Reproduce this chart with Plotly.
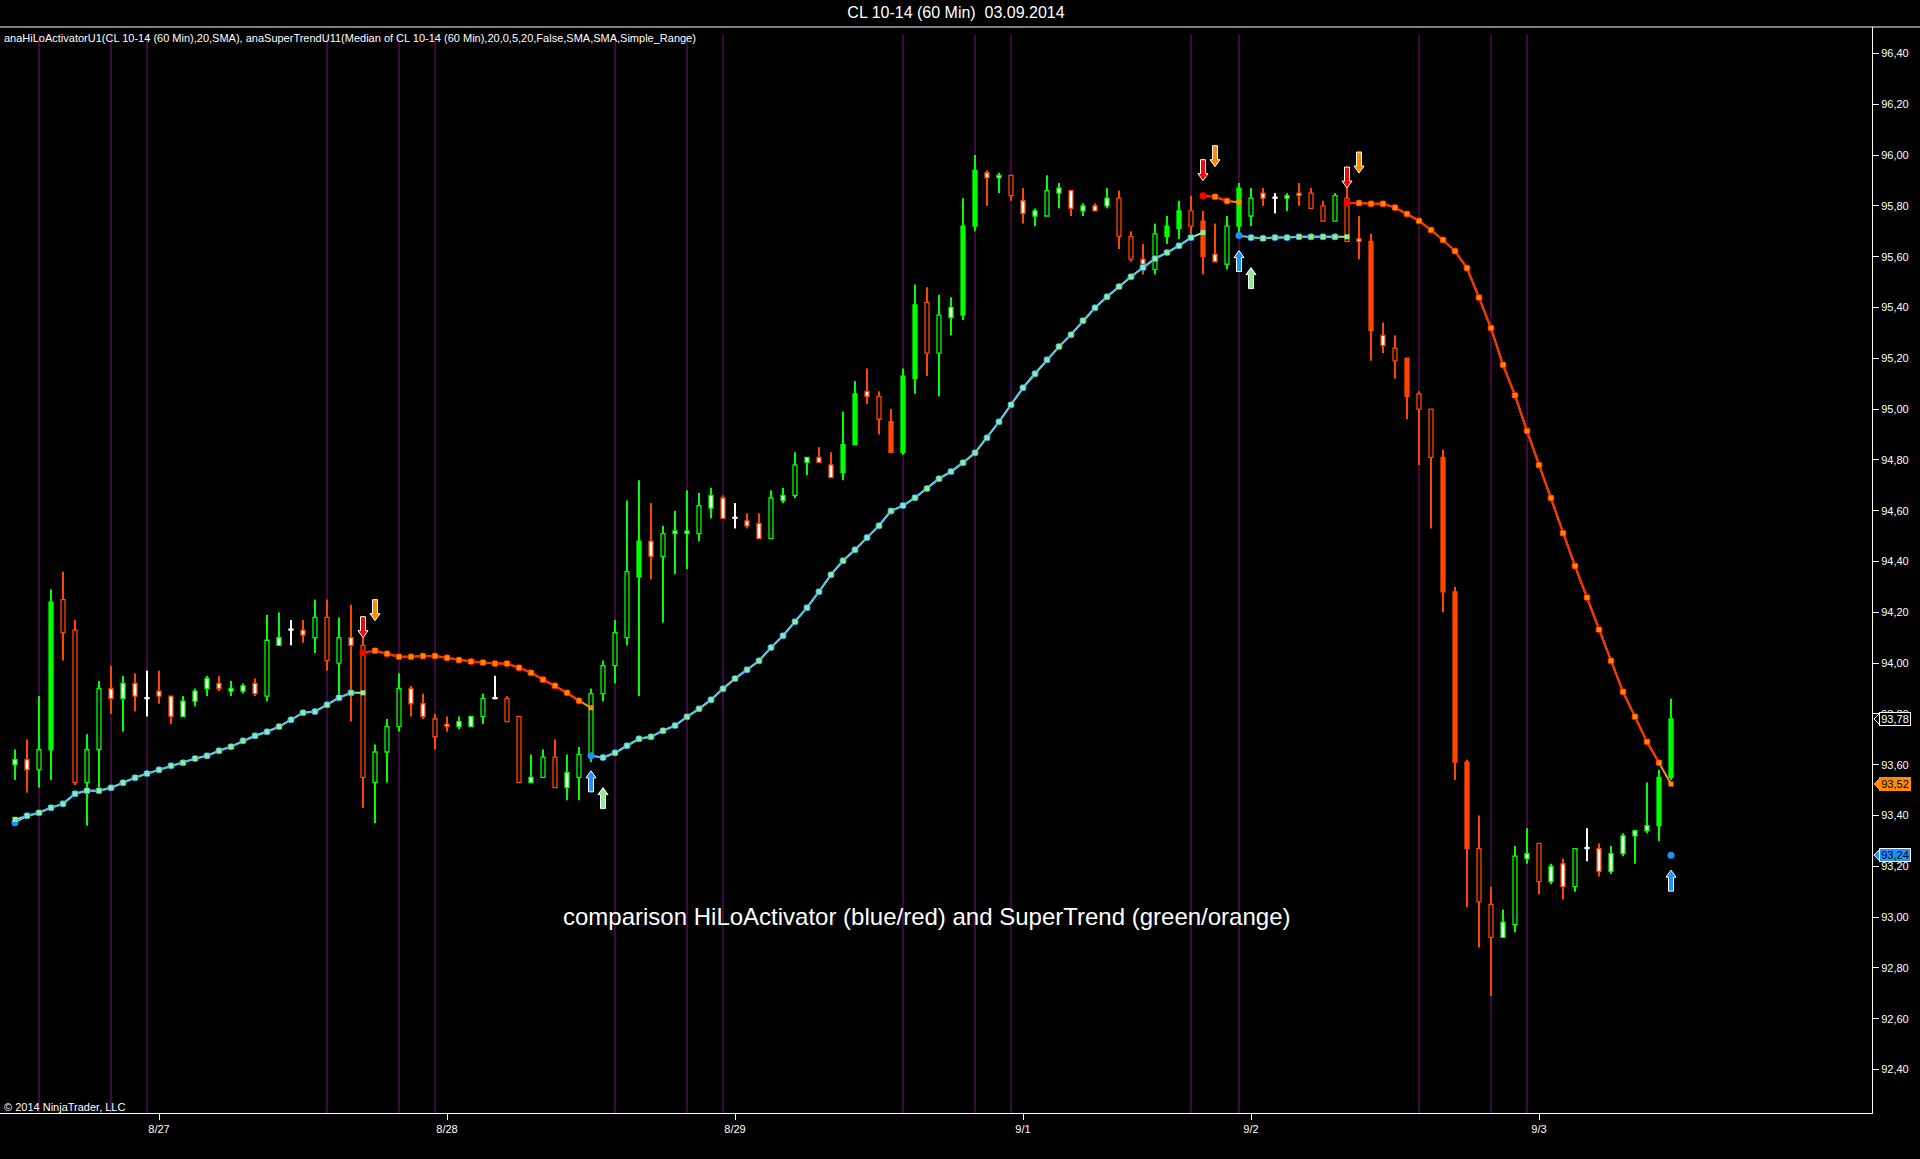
import plotly.graph_objects as go

# ---------------- data ----------------
bar_index = list(range(139))
date_tick_bars = [12, 36, 60, 84, 103, 127]
date_tick_labels = ["8/27", "8/28", "8/29", "9/1", "9/2", "9/3"]
session_line_bars = [2, 8, 11, 26, 32, 35, 50, 56, 59, 74, 80, 83, 98, 102, 117, 123, 126]
price_ticks = [92.40, 92.60, 92.80, 93.00, 93.20, 93.40, 93.60, 93.80, 94.00, 94.20,
               94.40, 94.60, 94.80, 95.00, 95.20, 95.40, 95.60, 95.80, 96.00, 96.20, 96.40]

opens = [93.60, 93.62, 93.58, 93.66, 94.25, 94.13, 93.53, 93.66, 93.90, 93.86,
         93.92, 93.86, 93.89, 93.87, 93.79, 93.85, 93.90, 93.92, 93.89, 93.89,
         93.92, 93.87, 94.07, 94.13, 94.13, 94.10, 94.18, 94.00, 94.10, 94.07,
         93.53, 93.65, 93.75, 93.90, 93.84, 93.78, 93.76, 93.75, 93.75, 93.79,
         93.86, 93.86, 93.79, 93.53, 93.55, 93.63, 93.51, 93.55, 93.64, 93.88,
         93.99, 94.10, 94.34, 94.48, 94.42, 94.51, 94.51, 94.51, 94.61, 94.65,
         94.57, 94.56, 94.55, 94.49, 94.64, 94.66, 94.79, 94.81, 94.78, 94.75,
         94.86, 95.07, 95.05, 94.95, 94.83, 95.12, 95.42, 95.22, 95.36, 95.37,
         95.72, 95.93, 95.91, 95.92, 95.82, 95.76, 95.76, 95.85, 95.86, 95.78,
         95.80, 95.80, 95.83, 95.68, 95.59, 95.55, 95.68, 95.71, 95.78, 95.74,
         95.61, 95.57, 95.72, 95.76, 95.85, 95.83, 95.83, 95.85, 95.85, 95.80,
         95.74, 95.83, 95.67, 95.66, 95.29, 95.24, 95.20, 95.06, 95.00, 94.81,
         94.28, 93.61, 93.27, 93.05, 92.92, 92.97, 93.23, 93.29, 93.14, 93.21,
         93.12, 93.27, 93.27, 93.18, 93.25, 93.32, 93.34, 93.36, 93.55]
highs = [93.66, 93.70, 93.87, 94.29, 94.36, 94.17, 93.72, 93.93, 93.99, 93.95,
         93.96, 93.97, 93.97, 93.87, 93.87, 93.90, 93.95, 93.95, 93.93, 93.92,
         93.94, 94.19, 94.20, 94.17, 94.17, 94.25, 94.25, 94.18, 94.23, 94.10,
         93.68, 93.78, 93.96, 93.91, 93.88, 93.80, 93.79, 93.79, 93.79, 93.88,
         93.95, 93.87, 93.79, 93.64, 93.66, 93.70, 93.64, 93.67, 93.90, 94.01,
         94.17, 94.64, 94.72, 94.63, 94.54, 94.60, 94.68, 94.67, 94.69, 94.66,
         94.63, 94.59, 94.59, 94.68, 94.69, 94.83, 94.81, 94.85, 94.83, 94.99,
         95.11, 95.16, 95.07, 95.00, 95.16, 95.49, 95.48, 95.45, 95.44, 95.83,
         96.00, 95.94, 95.93, 95.92, 95.87, 95.79, 95.92, 95.89, 95.86, 95.81,
         95.81, 95.87, 95.86, 95.70, 95.65, 95.73, 95.76, 95.82, 95.84, 95.78,
         95.73, 95.76, 95.89, 95.87, 95.87, 95.85, 95.85, 95.89, 95.87, 95.82,
         95.85, 95.87, 95.76, 95.69, 95.34, 95.29, 95.20, 95.07, 95.00, 94.84,
         94.30, 93.62, 93.40, 93.12, 93.03, 93.28, 93.35, 93.29, 93.21, 93.23,
         93.27, 93.35, 93.29, 93.28, 93.33, 93.34, 93.53, 93.58, 93.86]
lows = [93.54, 93.49, 93.51, 93.54, 94.01, 93.52, 93.36, 93.51, 93.80, 93.73,
        93.81, 93.79, 93.84, 93.76, 93.79, 93.83, 93.87, 93.89, 93.87, 93.88,
        93.87, 93.85, 94.07, 94.07, 94.08, 94.04, 93.97, 93.87, 93.77, 93.43,
        93.37, 93.53, 93.73, 93.79, 93.78, 93.66, 93.73, 93.74, 93.75, 93.76,
        93.86, 93.77, 93.53, 93.53, 93.55, 93.51, 93.46, 93.46, 93.61, 93.85,
        93.92, 94.07, 93.87, 94.33, 94.16, 94.35, 94.37, 94.48, 94.57, 94.57,
        94.53, 94.53, 94.49, 94.49, 94.63, 94.65, 94.74, 94.79, 94.73, 94.72,
        94.86, 95.02, 94.90, 94.83, 94.82, 95.06, 95.13, 95.05, 95.29, 95.35,
        95.70, 95.80, 95.85, 95.82, 95.73, 95.72, 95.76, 95.79, 95.76, 95.76,
        95.78, 95.79, 95.63, 95.58, 95.53, 95.53, 95.65, 95.67, 95.68, 95.53,
        95.58, 95.55, 95.69, 95.72, 95.80, 95.77, 95.78, 95.80, 95.79, 95.74,
        95.74, 95.66, 95.59, 95.19, 95.22, 95.12, 94.96, 94.78, 94.53, 94.20,
        93.54, 93.04, 92.88, 92.69, 92.92, 92.94, 93.21, 93.09, 93.13, 93.07,
        93.10, 93.22, 93.16, 93.17, 93.24, 93.21, 93.33, 93.30, 93.54]
closes = [93.62, 93.58, 93.66, 94.24, 94.12, 93.53, 93.66, 93.90, 93.86, 93.92,
          93.87, 93.86, 93.87, 93.79, 93.85, 93.89, 93.94, 93.90, 93.90, 93.91,
          93.88, 94.09, 94.10, 94.13, 94.11, 94.18, 94.01, 94.10, 94.07, 93.55,
          93.65, 93.75, 93.90, 93.84, 93.79, 93.71, 93.75, 93.77, 93.79, 93.86,
          93.86, 93.77, 93.53, 93.55, 93.63, 93.51, 93.57, 93.64, 93.88, 93.99,
          94.12, 94.36, 94.48, 94.42, 94.51, 94.52, 94.52, 94.62, 94.66, 94.57,
          94.57, 94.54, 94.49, 94.65, 94.66, 94.78, 94.81, 94.79, 94.73, 94.86,
          95.06, 95.05, 94.96, 94.83, 95.13, 95.41, 95.22, 95.37, 95.40, 95.72,
          95.94, 95.91, 95.92, 95.84, 95.77, 95.78, 95.86, 95.87, 95.79, 95.80,
          95.78, 95.83, 95.68, 95.59, 95.57, 95.69, 95.72, 95.78, 95.72, 95.60,
          95.58, 95.72, 95.87, 95.83, 95.83, 95.83, 95.84, 95.84, 95.79, 95.74,
          95.84, 95.66, 95.66, 95.31, 95.25, 95.19, 95.05, 95.00, 94.81, 94.28,
          93.61, 93.27, 93.06, 92.92, 92.98, 93.24, 93.25, 93.14, 93.20, 93.12,
          93.27, 93.27, 93.18, 93.25, 93.32, 93.34, 93.36, 93.55, 93.78]
# candle body paint: w = white body, h = hollow body, s = solid body
body_paint = ["w", "w", "h", "s", "h", "h", "h", "h", "w", "w",
              "w", "w", "w", "w", "w", "w", "w", "w", "w", "w",
              "w", "h", "w", "w", "w", "h", "h", "h", "w", "h",
              "h", "h", "h", "w", "w", "h", "w", "w", "w", "h",
              "w", "h", "h", "w", "h", "h", "w", "h", "h", "h",
              "h", "h", "s", "w", "h", "w", "w", "h", "w", "w",
              "w", "w", "w", "h", "w", "h", "w", "w", "w", "s",
              "s", "w", "h", "s", "s", "s", "h", "h", "w", "s",
              "s", "w", "w", "h", "w", "w", "h", "w", "w", "w",
              "w", "w", "h", "h", "w", "h", "s", "s", "h", "s",
              "w", "h", "s", "h", "w", "w", "w", "w", "h", "h",
              "h", "h", "w", "s", "w", "h", "s", "h", "h", "s",
              "s", "s", "h", "h", "w", "h", "w", "h", "w", "w",
              "h", "w", "w", "w", "w", "w", "w", "s", "s"]

hilo = [93.372, 93.399, 93.411, 93.431, 93.446, 93.486, 93.498, 93.498, 93.509, 93.529,
        93.549, 93.565, 93.580, 93.596, 93.608, 93.624, 93.635, 93.655, 93.671, 93.694,
        93.714, 93.730, 93.750, 93.777, 93.805, 93.809, 93.836, 93.864, 93.883, 94.041,
        94.049, 94.037, 94.025, 94.025, 94.028, 94.028, 94.021, 94.012, 94.006, 94.002,
        93.998, 93.998, 93.982, 93.962, 93.935, 93.911, 93.883, 93.852, 93.635, 93.628,
        93.647, 93.675, 93.702, 93.710, 93.734, 93.754, 93.789, 93.820, 93.856, 93.899,
        93.939, 93.974, 94.009, 94.061, 94.108, 94.163, 94.218, 94.281, 94.348, 94.403,
        94.446, 94.494, 94.541, 94.599, 94.620, 94.651, 94.687, 94.726, 94.754, 94.789,
        94.828, 94.887, 94.950, 95.017, 95.084, 95.139, 95.194, 95.246, 95.293, 95.348,
        95.399, 95.442, 95.482, 95.521, 95.557, 95.592, 95.616, 95.643, 95.675, 95.840,
        95.836, 95.819, 95.683, 95.675, 95.672, 95.675, 95.675, 95.678, 95.678, 95.678,
        95.678, 95.811, 95.811, 95.808, 95.808, 95.793, 95.768, 95.741, 95.705, 95.666,
        95.622, 95.555, 95.439, 95.319, 95.174, 95.054, 94.914, 94.780, 94.650, 94.512,
        94.382, 94.258, 94.132, 94.009, 93.887, 93.789, 93.690, 93.608, 93.244]
supertrend = [93.385, 93.399, 93.411, 93.431, 93.446, 93.486, 93.498, 93.498, 93.509, 93.529,
              93.549, 93.565, 93.580, 93.596, 93.608, 93.624, 93.635, 93.655, 93.671, 93.694,
              93.714, 93.730, 93.750, 93.777, 93.805, 93.809, 93.836, 93.864, 93.883, 93.883,
              94.049, 94.037, 94.025, 94.025, 94.028, 94.028, 94.021, 94.012, 94.006, 94.002,
              93.998, 93.998, 93.982, 93.962, 93.935, 93.911, 93.883, 93.852, 93.824, 93.628,
              93.647, 93.675, 93.702, 93.710, 93.734, 93.754, 93.789, 93.820, 93.856, 93.899,
              93.939, 93.974, 94.009, 94.061, 94.108, 94.163, 94.218, 94.281, 94.348, 94.403,
              94.446, 94.494, 94.541, 94.599, 94.620, 94.651, 94.687, 94.726, 94.754, 94.789,
              94.828, 94.887, 94.950, 95.017, 95.084, 95.139, 95.194, 95.246, 95.293, 95.348,
              95.399, 95.442, 95.482, 95.521, 95.557, 95.592, 95.616, 95.643, 95.675, 95.695,
              95.836, 95.819, 95.814, 95.675, 95.672, 95.675, 95.675, 95.678, 95.678, 95.678,
              95.678, 95.678, 95.811, 95.808, 95.808, 95.793, 95.768, 95.741, 95.705, 95.666,
              95.622, 95.555, 95.439, 95.319, 95.174, 95.054, 94.914, 94.780, 94.650, 94.512,
              94.382, 94.258, 94.132, 94.009, 93.887, 93.789, 93.690, 93.608, 93.524]
hilo_flip_bars = [29, 48, 99, 102, 111, 138]
st_flip_bars = [30, 49, 100, 103, 112]

title_text = "CL 10-14 (60 Min)  03.09.2014"
indicator_text = ("anaHiLoActivatorU1(CL 10-14 (60 Min),20,SMA), anaSuperTrendU11(Median of CL 10-14 "
                  "(60 Min),20,0,5,20,False,SMA,SMA,Simple_Range)")
comment_text = "comparison HiLoActivator (blue/red) and SuperTrend (green/orange)"
copyright_text = "© 2014 NinjaTrader, LLC"

# ---------------- styling ----------------
UP = "#00ff00"
DOWN = "#ff4500"
DOJI = "#ffffff"
FONT = "Liberation Sans, Arial, sans-serif"

def trend(n, flips):
    up, out, fl = True, [], set(flips)
    for i in range(n):
        if i in fl:
            up = not up
        out.append(up)
    return out

n = len(bar_index)
col = []
for o, c in zip(opens, closes):
    col.append(UP if c > o else (DOWN if c < o else DOJI))
fill = []
for p, c in zip(body_paint, col):
    fill.append("#ffffff" if p == "w" else ("#000000" if p == "h" else c))
body_base = [min(o, c) for o, c in zip(opens, closes)]
body_h = [max(abs(c - o), 0.004) for o, c in zip(opens, closes)]
wick_h = [h - l for h, l in zip(highs, lows)]

fig = go.Figure()
fig.add_trace(go.Bar(x=bar_index, y=wick_h, base=lows, width=0.17,
                     marker=dict(color=col, line=dict(width=0)), hoverinfo="skip"))
fig.add_trace(go.Bar(x=bar_index, y=body_h, base=body_base, width=0.33,
                     marker=dict(color=fill, line=dict(color=col, width=1.3)), hoverinfo="skip"))

hilo_up = trend(n, hilo_flip_bars)
st_up = trend(n, st_flip_bars)

def series(vals, mask, want):
    return [v if m == want else None for v, m in zip(vals, mask)]

# lines
fig.add_trace(go.Scatter(x=bar_index, y=series(supertrend, st_up, True), mode="lines",
                         line=dict(color="#90ee90", width=2), hoverinfo="skip"))
fig.add_trace(go.Scatter(x=bar_index, y=series(supertrend, st_up, False), mode="lines",
                         line=dict(color="#ff8c00", width=2), hoverinfo="skip"))
fig.add_trace(go.Scatter(x=bar_index, y=series(hilo, hilo_up, True), mode="lines",
                         line=dict(color="#5cc4ea", width=2), hoverinfo="skip"))
fig.add_trace(go.Scatter(x=bar_index, y=series(hilo, hilo_up, False), mode="lines",
                         line=dict(color="#ff3000", width=2), hoverinfo="skip"))
# markers
fig.add_trace(go.Scatter(x=bar_index, y=series(hilo, hilo_up, True), mode="markers",
                         marker=dict(color="#1e90ff", size=7, symbol="circle"), hoverinfo="skip"))
fig.add_trace(go.Scatter(x=bar_index, y=series(hilo, hilo_up, False), mode="markers",
                         marker=dict(color="#ff0000", size=7, symbol="circle"), hoverinfo="skip"))
fig.add_trace(go.Scatter(x=bar_index, y=series(supertrend, st_up, True), mode="markers",
                         marker=dict(color="#90ee90", size=5, symbol="square"), hoverinfo="skip"))
fig.add_trace(go.Scatter(x=bar_index, y=series(supertrend, st_up, False), mode="markers",
                         marker=dict(color="#ff8c00", size=5, symbol="square"), hoverinfo="skip"))

shapes = []
# session lines
for b in session_line_bars:
    shapes.append(dict(type="line", xref="x", yref="paper", x0=b, x1=b, y0=0, y1=1 - 8 / 1086,
                       line=dict(color="#3c0a3e", width=2), layer="below"))

def arrow_path(offset, down):
    s = 1 if down else -1
    pts = [(0, offset), (-5, offset + 7), (-2.5, offset + 7), (-2.5, offset + 21),
           (2.5, offset + 21), (2.5, offset + 7), (5, offset + 7)]
    return "M " + " L ".join(f"{x},{s * y}" for x, y in pts) + " Z"

for b in hilo_flip_bars:
    down = not hilo_up[b]
    shapes.append(dict(type="path", xref="x", yref="y", xsizemode="pixel", ysizemode="pixel",
                       xanchor=b, yanchor=hilo[b], path=arrow_path(15, down),
                       fillcolor="#ff0000" if down else "#1e90ff",
                       line=dict(color="#ffffff", width=1), layer="above"))
for b in st_flip_bars:
    down = not st_up[b]
    shapes.append(dict(type="path", xref="x", yref="y", xsizemode="pixel", ysizemode="pixel",
                       xanchor=b, yanchor=supertrend[b], path=arrow_path(30, down),
                       fillcolor="#ff8c00" if down else "#90ee90",
                       line=dict(color="#ffffff", width=1), layer="above"))

# top border line
shapes.append(dict(type="line", xref="paper", yref="paper", x0=0, x1=1920 / 1872, y0=1, y1=1,
                   line=dict(color="#ffffff", width=1)))

annotations = [
    dict(text=indicator_text, xref="paper", yref="paper", x=0, y=1, xanchor="left",
         yanchor="middle", xshift=2, yshift=-11, showarrow=False,
         font=dict(family=FONT, size=11, color="#ffffff")),
    dict(text=comment_text, xref="paper", yref="paper", x=927 / 1872, y=1 - (916 - 27) / 1086,
         xanchor="center", yanchor="middle", showarrow=False,
         font=dict(family=FONT, size=24, color="#ffffff")),
    dict(text=copyright_text, xref="paper", yref="paper", x=0, y=0, xanchor="left",
         yanchor="middle", xshift=2, yshift=6, showarrow=False,
         font=dict(family=FONT, size=11, color="#ffffff")),
]

# right-side value markers (box drawn by the annotation itself, pointer tip by a shape)
markers = [(closes[-1], "#000000", "#ffffff", "#ffffff"),
           (supertrend[-1], "#ff8c00", "#ff8c00", "#000000"),
           (hilo[-1], "#1e90ff", "#ffffff", "#000000")]
for val, bg, border, txt in markers:
    shapes.append(dict(type="path", xref="paper", yref="y", xsizemode="pixel", ysizemode="pixel",
                       xanchor=1, yanchor=val,
                       path="M 2,0 L 8.5,6.5 L 8.5,-6.5 Z",
                       fillcolor=bg, line=dict(color=border, width=1), layer="above"))
    annotations.append(dict(text=f"{val:.2f}".replace(".", ","), xref="paper", yref="y", x=1, y=val,
                            xanchor="left", yanchor="middle", xshift=7, showarrow=False,
                            bgcolor=bg, bordercolor=border, borderwidth=1, borderpad=0,
                            width=30, height=12, align="center",
                            font=dict(family=FONT, size=11, color=txt)))

fig.update_layout(
    width=1920, height=1159,
    margin=dict(l=0, r=48, t=27, b=46, autoexpand=False),
    paper_bgcolor="#000000", plot_bgcolor="#000000",
    barmode="overlay", showlegend=False, hovermode=False,
    separators=",.",
    title=dict(text=title_text, xref="container", yref="container", x=956 / 1920,
               y=1 - 12 / 1159, xanchor="center", yanchor="middle",
               font=dict(family=FONT, size=16, color="#ffffff")),
    xaxis=dict(range=[-1.25, 154.75], showgrid=False, zeroline=False,
               tickmode="array", tickvals=date_tick_bars, ticktext=date_tick_labels,
               ticks="outside", ticklen=6, tickcolor="#ffffff", tickwidth=1,
               showline=True, linecolor="#ffffff", linewidth=1,
               tickfont=dict(family=FONT, size=11, color="#ffffff")),
    yaxis=dict(range=[92.229, 96.504], side="right", showgrid=False, zeroline=False,
               tickmode="array", tickvals=price_ticks, tickformat=".2f",
               ticks="outside", ticklen=6, tickcolor="#ffffff", tickwidth=1,
               showline=True, linecolor="#ffffff", linewidth=1,
               tickfont=dict(family=FONT, size=11, color="#ffffff")),
    shapes=shapes, annotations=annotations,
)

fig.write_html("out.html", config={"displayModeBar": False},
               post_script="document.body.style.margin='0';document.body.style.background='#000';"
                           "document.body.style.overflow='hidden';")
